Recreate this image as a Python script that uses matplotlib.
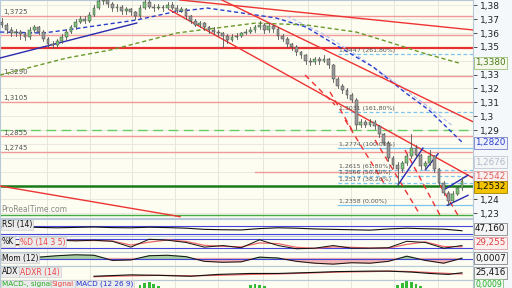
import matplotlib
matplotlib.use("Agg")
import matplotlib.pyplot as plt
from matplotlib.patches import Rectangle
import numpy as np

# ---------------- data ----------------
closes = [1.366,1.362,1.360,1.361,1.359,1.357,1.362,1.364,1.361,1.356,
          1.352,1.351,1.354,1.357,1.361,1.364,1.368,1.370,1.369,1.373,
          1.378,1.383,1.384,1.381,1.378,1.379,1.376,1.377,1.375,1.372,
          1.378,1.382,1.379,1.378,1.379,1.378,1.380,1.378,1.376,1.377,
          1.372,1.369,1.366,1.367,1.364,1.362,1.361,1.360,1.358,1.355,
          1.357,1.358,1.360,1.361,1.362,1.364,1.366,1.362,1.365,1.363,
          1.358,1.356,1.352,1.350,1.346,1.344,1.340,1.339,1.341,1.340,
          1.341,1.337,1.327,1.322,1.319,1.315,1.312,1.294,1.296,1.294,
          1.296,1.293,1.287,1.281,1.270,1.265,1.262,1.266,1.271,1.277,
          1.272,1.264,1.266,1.271,1.262,1.252,1.245,1.239,1.244,1.248,
          1.2532]
first_open = 1.368
highs = [1.371,1.367,1.364,1.363,1.362,1.361,1.364,1.366,1.365,1.362,
         1.357,1.354,1.356,1.359,1.363,1.366,1.370,1.372,1.372,1.375,
         1.380,1.386,1.387,1.385,1.382,1.381,1.380,1.379,1.378,1.376,
         1.380,1.385,1.384,1.381,1.381,1.380,1.382,1.382,1.380,1.379,
         1.378,1.373,1.370,1.369,1.368,1.365,1.364,1.362,1.361,1.359,
         1.359,1.360,1.361,1.363,1.364,1.366,1.369,1.367,1.367,1.366,
         1.364,1.359,1.357,1.353,1.351,1.347,1.345,1.342,1.343,1.343,
         1.344,1.342,1.338,1.328,1.323,1.320,1.317,1.313,1.298,1.297,
         1.298,1.297,1.294,1.288,1.282,1.271,1.267,1.268,1.273,1.287,
         1.279,1.273,1.268,1.276,1.272,1.263,1.253,1.246,1.246,1.250,
         1.256]
lows = [1.364,1.360,1.358,1.358,1.356,1.355,1.356,1.361,1.359,1.354,
        1.350,1.3495,1.350,1.353,1.356,1.360,1.363,1.367,1.367,1.368,
        1.372,1.377,1.381,1.379,1.376,1.376,1.374,1.374,1.373,1.370,
        1.371,1.377,1.378,1.376,1.377,1.376,1.377,1.377,1.375,1.375,
        1.370,1.367,1.365,1.364,1.362,1.360,1.359,1.358,1.350,1.353,
        1.354,1.356,1.357,1.359,1.360,1.361,1.363,1.360,1.361,1.361,
        1.356,1.354,1.350,1.348,1.344,1.342,1.338,1.337,1.338,1.338,
        1.339,1.335,1.325,1.320,1.317,1.313,1.310,1.291,1.292,1.292,
        1.293,1.291,1.285,1.279,1.268,1.263,1.251,1.260,1.265,1.270,
        1.270,1.262,1.262,1.265,1.260,1.250,1.243,1.2358,1.238,1.243,
        1.247]

price_ticks = [1.23,1.24,1.29,1.30,1.31,1.32,1.33,1.35,1.36,1.37,1.38]
price_tick_labels = ["1,23","1,24","1,29","1,3","1,31","1,32","1,33","1,35","1,36","1,37","1,38"]

# horizontal levels
red_levels = [1.3725, 1.3586, 1.3290, 1.3105, 1.2855, 1.2745]
red_level_labels = ["1,3725", "", "1,3290", "1,3105", "1,2855", "1,2745"]
thick_red_level = 1.3490
green_dash_level = 1.2900
support_level = 1.2500
bottom_green_level = 1.2286
partial_red_level = 1.2600

fib_levels = [1.3447, 1.3031, 1.2774, 1.2615, 1.2566, 1.2517, 1.2358]
fib_labels = ["1,3447 (261,80%)", "1,3031 (161,80%)", "1,2774 (100,00%)",
              "1,2615 (61,80%)", "1,2566 (50,00%)", "1,2517 (38,20%)", "1,2358 (0,00%)"]

# moving averages (candle index, price)
ma_blue_x = [-0.4, 8.9, 14.1, 29.3, 37.2, 44.6, 55.2, 59.6, 66.1, 73.3, 80.7, 87.8, 92.8, 100.2]
ma_blue_y = [1.3607,1.3600,1.3622,1.3694,1.3751,1.3780,1.3730,1.3708,1.3643,1.3499,1.3355,1.3167,1.3045,1.2807]
ma_green_x = [-0.4, 14.1, 23.5, 38.0, 55.2, 66.1, 77.0, 84.1, 91.5, 99.3]
ma_green_y = [1.3297,1.3420,1.3477,1.3600,1.3672,1.3658,1.3607,1.3535,1.3456,1.3384]
ma_pale_x = [62.0, 70.0, 78.0, 86.0, 93.0, 98.0]
ma_pale_y = [1.3720, 1.3590, 1.3420, 1.3230, 1.3060, 1.2930]

# trend lines: (x0, y0, x1, y1)
red_trends = [(38.7, 1.3838, 102.4, 1.3622),
              (-0.4, 1.2497, 38.7, 1.2276),
              (47.8, 1.3838, 102.4, 1.2960),
              (36.5, 1.3766, 102.4, 1.2555)]
red_dashed = [(65.9, 1.3297, 72.4, 1.3081),
              (71.3, 1.3175, 76.1, 1.2901),
              (74.6, 1.2973, 83.3, 1.2504),
              (81.1, 1.2829, 90.9, 1.2288),
              (87.6, 1.2757, 95.2, 1.2288),
              (95.2, 1.2504, 99.1, 1.2288)]
blue_trends = [(-0.4, 1.3420, 29.3, 1.3672),
               (86.1, 1.2505, 91.5, 1.2770),
               (92.0, 1.2612, 94.8, 1.2730),
               (96.8, 1.2358, 101.3, 1.2430),
               (96.0, 1.2468, 101.3, 1.2575)]

# indicator series (sampled every 4 candles)
ind_x = list(range(0, 101, 4))
rsi = [64,66,64,62,64,66,63,62,65,63,60,54,52,51,58,62,60,56,54,52,50,56,60,57,55,47]
stoch_k = [37,44,76,73,69,73,66,26,80,73,58,26,37,22,76,37,15,19,37,19,19,22,66,58,19,37]
stoch_d = [40,42,65,74,71,71,68,40,60,75,65,38,32,28,55,50,25,18,28,25,20,20,45,62,30,29]
mom = [-0.002,-0.001,0.003,0.006,0.008,0.007,-0.004,-0.003,0.006,0.007,0.004,-0.006,-0.008,-0.007,0.003,0.001,-0.006,-0.010,-0.012,-0.009,-0.010,-0.006,0.005,-0.004,-0.010,0.0007]
adx_x = [20,28,34,41,47,54,60,67,73,80,84,89,93,97,100]
adx = [18,21,20,18,22,24,24,26,28,29,29,27,24,22,25.4]
adxr = [17,19,20,19,20,22,23,25,27,28,29,28,26,24,23]
macd_hist_x = [30,31,32,33,34,54,55,56,57,86,87,88,89,90,91]
macd_hist = [0.3,0.5,0.6,0.4,0.2,0.3,0.4,0.3,0.2,0.3,0.5,0.7,0.6,0.4,0.2]

# ---------------- helpers ----------------
W, H = 512, 288
fig = plt.figure(figsize=(W/100, H/100), dpi=100)
fig.patch.set_facecolor("#f4f8fb")
bg = "#fdfdf1"
axr = 473 / W
XLIM = (-0.435, 102.39)
grid_x = [9.8, 19.1, 28.3, 37.6, 47.0, 56.7, 66.5, 75.9, 85.2, 94.8]

def add_panel(top_px, bot_px):
    ax = fig.add_axes([0, 1 - bot_px / H, axr, (bot_px - top_px) / H])
    ax.set_facecolor(bg)
    ax.set_xlim(*XLIM)
    for s in ax.spines.values():
        s.set_color("#b8c8d8"); s.set_linewidth(0.8)
    ax.set_xticks([]); ax.set_yticks([])
    for gx in grid_x:
        ax.axvline(gx, color="#e2e2d8", lw=0.6, zorder=0)
    return ax

# ---------------- main panel ----------------
ax = add_panel(0, 218)
ax.set_ylim(1.3838 - 218 / 1387, 1.3838)
for p in np.arange(1.23, 1.385, 0.01):
    ax.axhline(p, color="#e6e6dc", lw=0.6, zorder=0)

for lv, lb in zip(red_levels, red_level_labels):
    ax.axhline(lv, color="#f29a9a", lw=1.0, zorder=1)
    if lb:
        ax.text(0.3, lv + 0.0006, lb, fontsize=5, color="#555555", va="bottom", ha="left")
ax.axhline(thick_red_level, color="#e83030", lw=1.6, zorder=1)
ax.axhline(green_dash_level, color="#66cc66", lw=1.0, ls=(0, (7, 4)), zorder=1)
ax.axhline(support_level, color="#1a7a1a", lw=1.8, zorder=1)
ax.axhline(bottom_green_level, color="#44aa44", lw=1.0, zorder=1)
ax.plot([55.0, XLIM[1]], [partial_red_level, partial_red_level], color="#f29a9a", lw=1.0, zorder=1)

# fib lines
for k, (lv, lb) in enumerate(zip(fib_levels, fib_labels)):
    solid = k in (2, 6)
    ax.plot([73.0, XLIM[1]], [lv, lv], color="#7fc4ec", lw=0.9,
            ls="-" if solid else (0, (3, 2)), zorder=2)
    ax.text(73.3, lv + 0.0007, lb, fontsize=4.5, color="#555555", va="bottom", ha="left", zorder=6)

ax.plot(ma_pale_x, ma_pale_y, color="#b8bff0", lw=0.9, ls=(0, (3, 2)), zorder=2)
ax.plot(ma_blue_x, ma_blue_y, color="#2b3fcf", lw=1.0, ls=(0, (3, 2)), zorder=3)
ax.plot(ma_green_x, ma_green_y, color="#6a9a2a", lw=1.0, ls=(0, (3, 2)), zorder=3)
for x0, y0, x1, y1 in red_trends:
    ax.plot([x0, x1], [y0, y1], color="#ee3333", lw=1.0, zorder=3)
for x0, y0, x1, y1 in red_dashed:
    ax.plot([x0, x1], [y0, y1], color="#ee3333", lw=1.0, ls=(0, (4, 3)), zorder=3)
for x0, y0, x1, y1 in blue_trends:
    ax.plot([x0, x1], [y0, y1], color="#2a2ab0", lw=1.0, zorder=4)

opens = [first_open] + closes[:-1]
bw = 0.62
for i, (o, hi, lo, c) in enumerate(zip(opens, highs, lows, closes)):
    ax.plot([i, i], [lo, hi], color="#555555", lw=0.6, zorder=5)
    col = "#7cc47c" if c >= o else "#9a9a9a"
    ax.add_patch(Rectangle((i - bw / 2, min(o, c)), bw, max(abs(c - o), 0.0003),
                           facecolor=col, edgecolor="#333333", lw=0.3, zorder=5))

ax.text(-0.2, 1.2292, "ProRealTime.com", fontsize=5.5, color="#888888", va="bottom", ha="left", zorder=6)

ax.yaxis.tick_right()
ax.set_yticks(price_ticks)
ax.set_yticklabels(price_tick_labels)
ax.tick_params(axis="y", length=3, width=0.6, color="#333333", labelsize=6.5, pad=2, labelcolor="#222222")

def rlabel(y_px, text, fc, ec, tc):
    fig.text(475 / W, 1 - y_px / H, text, fontsize=6.3, color=tc, va="center", ha="left",
             bbox=dict(boxstyle="square,pad=0.15", fc=fc, ec=ec, lw=0.6))

rlabel(63, "1,3380", "#f4f8e8", "#9abf7a", "#4a7a1a")
rlabel(143, "1,2820", "#eef0fa", "#7a80cc", "#2b3fcf")
rlabel(162, "1,2676", "#f4f6f8", "#c0c8d0", "#b0b8c8")
rlabel(177, "1,2542", "#fbf0f0", "#e0a0a0", "#e06060")
rlabel(187, "1,2532", "#f5c400", "#a08000", "#111111")

def panel_label(y_px, parts, size=5.5):
    for x_px, txt, col in parts:
        fig.text(x_px / W, 1 - y_px / H, txt, fontsize=size, color=col, va="center", ha="left",
                 bbox=dict(boxstyle="square,pad=0.1", fc="#ebebeb", ec="#c8c8c8", lw=0.4), zorder=8)

# ---------------- RSI ----------------
a1 = add_panel(219, 236)
a1.set_ylim(20, 107)
a1.axhline(70, color="#4444dd", lw=0.8); a1.axhline(30, color="#4444dd", lw=0.8)
a1.plot(ind_x, rsi, color="#111111", lw=0.8)
panel_label(225, [(2, "RSI (14)", "#111111")])
rlabel(229, "47,160", "#f4f4f4", "#888888", "#111111")

# ---------------- Stochastic ----------------
a2 = add_panel(236, 252)
a2.set_ylim(-7, 102)
a2.axhline(80, color="#4444dd", lw=0.8); a2.axhline(20, color="#4444dd", lw=0.8)
a2.plot(ind_x, stoch_d, color="#ee6666", lw=0.9)
a2.plot(ind_x, stoch_k, color="#111111", lw=0.7)
panel_label(242, [(2, "%K", "#111111"), (20, "%D (14 3 5)", "#ee4444")])
rlabel(243, "29,255", "#fbf0f0", "#e0a0a0", "#e04040")

# ---------------- Momentum ----------------
a3 = add_panel(252, 266)
a3.set_ylim(-0.016, 0.014)
a3.axhline(0, color="#4444dd", lw=0.8)
a3.fill_between(ind_x, mom, 0, where=[m >= 0 for m in mom], color="#88bb88", alpha=0.7, interpolate=True)
a3.fill_between(ind_x, mom, 0, where=[m < 0 for m in mom], color="#ee9999", alpha=0.7, interpolate=True)
a3.plot(ind_x, mom, color="#111111", lw=0.7)
panel_label(258, [(2, "Mom (12)", "#111111")])
rlabel(258, "0,0007", "#f4f4f4", "#888888", "#111111")

# ---------------- ADX ----------------
a4 = add_panel(266, 280)
a4.set_ylim(10, 40)
a4.plot(adx_x, adxr, color="#ee6666", lw=0.9)
a4.plot(adx_x, adx, color="#111111", lw=0.8)
panel_label(272, [(2, "ADX", "#111111"), (20, "ADXR (14)", "#ee4444")])
rlabel(273, "25,416", "#f4f4f4", "#888888", "#111111")

# ---------------- MACD ----------------
a5 = add_panel(280, 300)
a5.set_ylim(-1, 1)
a5.bar(macd_hist_x, macd_hist, width=0.6, bottom=0.2, color="#33bb33")
a5.axhline(-0.6, color="#2233cc", lw=0.8)
panel_label(284, [(2, "MACD-, signal", "#22aa22"), (52, "Signal", "#ee4444"), (76, "MACD (12 26 9)", "#2233cc")], size=5.2)
fig.text(475 / W, 1 - 284.5 / H, "0,0009", fontsize=5.5, color="#22aa22", va="center", ha="left",
         bbox=dict(boxstyle="square,pad=0.1", fc="#eef8ee", ec="#88bb88", lw=0.6))

fig.savefig("out.png", dpi=100, facecolor=fig.get_facecolor())
